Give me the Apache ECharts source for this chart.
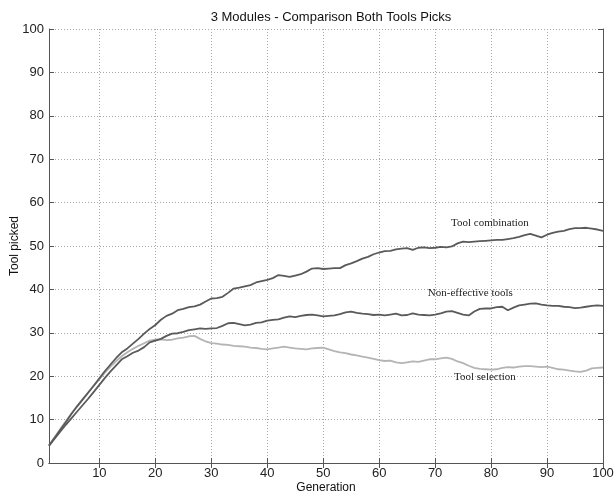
<!DOCTYPE html>
<html>
<head>
<meta charset="utf-8">
<script src="https://cdn.jsdelivr.net/npm/echarts@6/dist/echarts.min.js"></script>
<style>html,body{margin:0;padding:0;background:#fff;}#c{width:614px;height:494px;}</style>
</head>
<body>
<div id="c"></div>
<script>
const titleText = '3 Modules - Comparison Both Tools Picks';
const xName = 'Generation';
const yName = 'Tool picked';
const generations = Array.from({length: 100}, (_, i) => i + 1);
const xTicks = [10, 20, 30, 40, 50, 60, 70, 80, 90, 100];

const toolCombination = [
 4.0, 5.8, 7.6, 9.4, 11.3, 13.0, 14.6, 16.2, 17.8, 19.5,
 21.2, 22.7, 24.2, 25.5, 26.4, 27.5, 28.6, 29.8, 30.9, 31.8,
 33.0, 33.9, 34.4, 35.2, 35.5, 35.9, 36.1, 36.5, 37.2, 37.9,
 38.0, 38.3, 39.2, 40.2, 40.4, 40.7, 41.0, 41.6, 41.9, 42.2,
 42.6, 43.3, 43.1, 42.9, 43.2, 43.5, 44.1, 44.8, 44.9, 44.7,
 44.8, 44.9, 44.9, 45.6, 46.0, 46.5, 47.1, 47.5, 48.1, 48.5,
 48.8, 48.9, 49.2, 49.4, 49.5, 49.1, 49.6, 49.7, 49.5, 49.6,
 49.8, 49.7, 49.9, 50.6, 51.0, 50.9, 51.0, 51.1, 51.2, 51.3,
 51.4, 51.4, 51.6, 51.8, 52.1, 52.5, 52.8, 52.4, 52.0, 52.6,
 53.0, 53.3, 53.5, 53.9, 54.1, 54.1, 54.2, 54.0, 53.8, 53.5
];
const nonEffective = [
 4.0, 5.6, 7.2, 8.8, 10.3, 11.8, 13.3, 14.8, 16.4, 18.0,
 19.6, 21.1, 22.5, 23.9, 24.6, 25.4, 25.9, 26.7, 27.8, 28.2,
 28.6, 29.3, 29.8, 29.9, 30.2, 30.6, 30.8, 31.0, 30.9, 31.0,
 31.1, 31.6, 32.2, 32.3, 32.0, 31.7, 31.9, 32.3, 32.4, 32.8,
 33.0, 33.1, 33.5, 33.8, 33.6, 33.9, 34.1, 34.2, 34.0, 33.8,
 33.9, 34.0, 34.3, 34.7, 34.9, 34.6, 34.4, 34.3, 34.1, 34.2,
 34.0, 34.2, 34.4, 34.0, 34.1, 34.5, 34.2, 34.1, 34.0, 34.2,
 34.5, 34.9, 35.0, 34.6, 34.2, 34.0, 34.9, 35.5, 35.6, 35.6,
 35.9, 36.0, 35.2, 35.8, 36.3, 36.5, 36.7, 36.8, 36.5, 36.3,
 36.2, 36.2, 36.0, 35.9, 35.7, 35.8, 36.0, 36.2, 36.3, 36.2
];
const toolSelection = [
 4.0, 5.9, 7.8, 9.6, 11.4, 13.1, 14.7, 16.3, 17.9, 19.3,
 20.8, 22.2, 23.5, 24.6, 25.5, 26.3, 27.0, 27.6, 28.2, 28.4,
 28.5, 28.3, 28.4, 28.7, 28.9, 29.2, 29.3, 28.6, 28.0, 27.6,
 27.5, 27.3, 27.2, 27.0, 26.9, 26.8, 26.6, 26.5, 26.3, 26.2,
 26.4, 26.6, 26.8, 26.6, 26.4, 26.3, 26.2, 26.4, 26.5, 26.6,
 26.2, 25.8, 25.5, 25.3, 25.0, 24.8, 24.5, 24.3, 24.0, 23.7,
 23.5, 23.6, 23.2, 23.0, 23.2, 23.4, 23.3, 23.6, 23.9, 23.9,
 24.1, 24.3, 24.0, 23.4, 23.0, 22.4, 21.9, 21.7, 21.6, 21.5,
 21.6, 21.9, 22.1, 22.0, 22.2, 22.3, 22.3, 22.2, 22.1, 22.2,
 21.9, 21.6, 21.5, 21.3, 21.1, 21.0, 21.3, 21.8, 21.9, 22.0
];

const seriesNames = ['Tool combination', 'Non-effective tools', 'Tool selection'];
const labelAnchors = [[79.8, 55.3], [76.3, 39.2], [78.9, 19.8]];

const chart = echarts.init(document.getElementById('c'), null, {renderer: 'canvas'});
const gridLine = {show: true, lineStyle: {color: '#a8a8a8', type: [1, 2], width: 1}};
const frameLine = {show: true, lineStyle: {color: '#555', width: 1}};
function pairs(arr) { return generations.map((g, i) => [g, arr[i]]); }
function mk(name, data, color, anchor) {
  return {
    name: name, type: 'line', data: pairs(data), showSymbol: false, symbol: 'none',
    lineStyle: {color: color, width: 1.8}, itemStyle: {color: color}, z: 3,
    markPoint: {
      symbol: 'circle', symbolSize: 0, silent: true,
      label: {show: true, position: 'inside', formatter: name, color: '#222',
        fontFamily: 'Liberation Serif', fontSize: 11},
      data: [{coord: anchor, value: 0}]
    }
  };
}
chart.setOption({
  animation: false,
  backgroundColor: '#fff',
  title: {text: titleText, left: 326, top: 6, textAlign: 'center',
    textStyle: {fontFamily: 'Liberation Sans', fontSize: 13, fontWeight: 'normal', color: '#111'}},
  grid: {left: 49, right: 11, top: 29, bottom: 31, containLabel: false, outerBoundsMode: 'none'},
  xAxis: [{
    type: 'value', min: 1, max: 100, position: 'bottom',
    name: xName, nameLocation: 'middle', nameGap: 19, nameMoveOverlap: false,
    nameTextStyle: {fontFamily: 'Liberation Sans', fontSize: 12, color: '#111'},
    axisLine: frameLine,
    axisTick: {show: true, inside: true, length: 5, customValues: xTicks, lineStyle: {color: '#555'}},
    axisLabel: {customValues: xTicks, fontFamily: 'Liberation Sans', fontSize: 13, color: '#222', margin: 4},
    splitLine: gridLine
  }, {
    type: 'value', min: 1, max: 100, position: 'top',
    axisLine: frameLine,
    axisTick: {show: true, inside: true, length: 5, customValues: xTicks, lineStyle: {color: '#555'}},
    axisLabel: {show: false}, splitLine: {show: false}
  }],
  yAxis: [{
    type: 'value', min: 0, max: 100, interval: 10, position: 'left',
    name: yName, nameLocation: 'middle', nameGap: 28, nameRotate: 90, nameMoveOverlap: false,
    nameTextStyle: {fontFamily: 'Liberation Sans', fontSize: 12, color: '#111'},
    axisLine: frameLine,
    axisTick: {show: true, inside: true, length: 5, lineStyle: {color: '#555'}},
    axisLabel: {fontFamily: 'Liberation Sans', fontSize: 13, color: '#222', margin: 5},
    splitLine: gridLine
  }, {
    type: 'value', min: 0, max: 100, interval: 10, position: 'right',
    axisLine: frameLine,
    axisTick: {show: true, inside: true, length: 5, lineStyle: {color: '#555'}},
    axisLabel: {show: false}, splitLine: {show: false}
  }],
  series: [
    mk(seriesNames[2], toolSelection, '#b4b4b4', labelAnchors[2]),
    mk(seriesNames[1], nonEffective, '#5a5a5a', labelAnchors[1]),
    mk(seriesNames[0], toolCombination, '#5a5a5a', labelAnchors[0])
  ]
});
</script>
</body>
</html>
